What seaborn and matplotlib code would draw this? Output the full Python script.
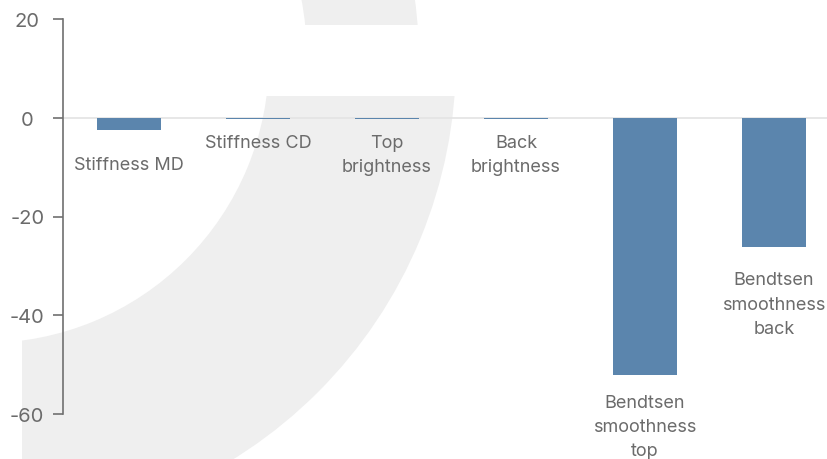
import matplotlib
matplotlib.use("Agg")
import matplotlib.pyplot as plt
from matplotlib.patches import Wedge, Rectangle
import pandas as pd
import seaborn as sns

categories = [
    "Stiffness MD",
    "Stiffness CD",
    "Top brightness",
    "Back brightness",
    "Bendtsen smoothness top",
    "Bendtsen smoothness back",
]
values = [-2.4, -0.35, -0.35, -0.35, -52.2, -26.2]
display_labels = [
    "Stiffness MD",
    "Stiffness CD",
    "Top\nbrightness",
    "Back\nbrightness",
    "Bendtsen\nsmoothness\ntop",
    "Bendtsen\nsmoothness\nback",
]
y_ticks = [-60, -40, -20, 0, 20]

# gap (points) between bar end and its label
label_gap = [19, 10.5, 10.5, 10.5, 13, 17.5]

BAR = "#5b85ad"
TEXT = "#6b6b6b"
AXIS = "#707070"
MARK = "#efefef"

sns.set_theme(style="white")
plt.rcParams["font.family"] = ["Inter", "DejaVu Sans"]

df = pd.DataFrame({"category": categories, "value": values})

fig = plt.figure(figsize=(8.27, 4.6), dpi=100)

# light watermark behind the chart
bg = fig.add_axes([0, 0, 1, 1], zorder=0)
bg.set_xlim(0, 827)
bg.set_ylim(460, 0)
bg.axis("off")
ring = Wedge((-15, 60), 471, 0, 360, width=187, color=MARK, lw=0)
bg.add_patch(ring)
ring.set_clip_path(Rectangle((22, 97), 805, 363, transform=bg.transData))
band = Wedge((-15, 60), 434, 0, 360, width=112, color=MARK, lw=0)
bg.add_patch(band)
band.set_clip_path(Rectangle((0, 0), 827, 26, transform=bg.transData))

ax = fig.add_axes([63 / 827, 1 - 415 / 460, 764 / 827, 395 / 460], zorder=1)
ax.set_facecolor("none")

ax.axhline(0, color="#e3e3e3", lw=1.2, zorder=1)
sns.barplot(data=df, x="category", y="value", color=BAR, width=0.5,
            saturation=1, linewidth=0, ax=ax, zorder=2)

ax.set_xlim(-0.512, 5.411)
ax.set_ylim(-60, 20)
ax.set_yticks(y_ticks)
ax.set_yticklabels([str(t) for t in y_ticks])
ax.set_xticks([])
ax.set_xlabel("")
ax.set_ylabel("")

for s in ["top", "right", "bottom"]:
    ax.spines[s].set_visible(False)
ax.spines["left"].set_color(AXIS)
ax.spines["left"].set_linewidth(1.2)
ax.tick_params(axis="y", left=True, length=7.2, width=1.2, color=AXIS,
               labelsize=14.5, labelcolor=TEXT, pad=18.5)
for lab in ax.get_yticklabels():
    lab.set_horizontalalignment("center")

for i, (v, lab) in enumerate(zip(values, display_labels)):
    ax.annotate(lab, xy=(i, v), xytext=(0, -label_gap[i]),
                textcoords="offset points", ha="center", va="top",
                fontsize=13, color=TEXT, linespacing=1.55, zorder=4)

fig.savefig("out.png", dpi=100)
